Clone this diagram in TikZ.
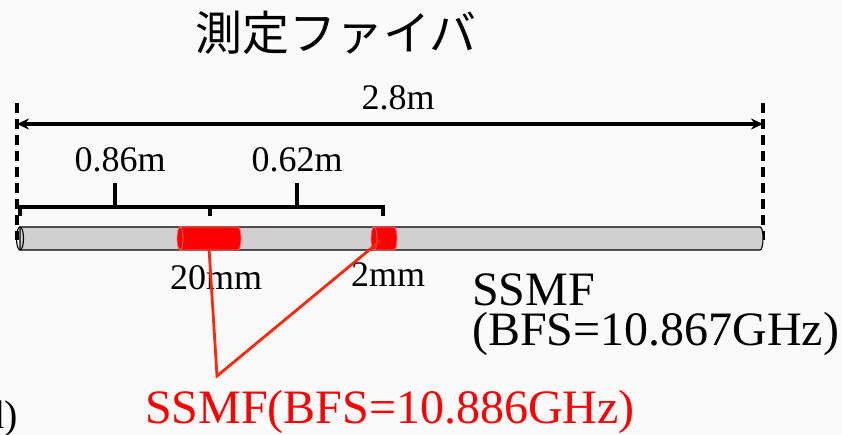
\documentclass[tikz,border=0pt]{standalone}
\usepackage{fontspec}
\setmainfont{Liberation Serif}
\newfontfamily\cjk{Noto Sans CJK JP}
\usetikzlibrary{arrows.meta}
\definecolor{bg}{RGB}{250,250,250}
\definecolor{fibergray}{RGB}{208,206,208}
\definecolor{segred}{RGB}{255,0,0}
\definecolor{segedge}{RGB}{255,110,110}
\definecolor{linered}{RGB}{255,40,10}
\tikzset{
  lbl/.style={inner sep=0pt, font=\fontsize{36}{36}\selectfont},
  big/.style={inner sep=0pt, font=\fontsize{48}{48}\selectfont},
  dim/.style={line width=3.2pt},
  guide/.style={line width=3.4pt, dash pattern=on 10pt off 6pt},
  fiberstyle/.style={draw=black, line width=1.1pt, fill=fibergray},
  redseg/.style={draw=segedge, line width=0.8pt, fill=segred},
  redline/.style={draw=linered, line width=2.8pt}
}
\begin{document}
\begin{tikzpicture}[x=1pt,y=-1pt]
\useasboundingbox[fill=bg] (0,0) rectangle (842,435);
% title
\node[inner sep=0pt, font=\cjk\fontsize{47}{47}\selectfont] (title) at (336,33) {測定ファイバ};
% guides
\coordinate (gl1) at (17,103); \coordinate (gl2) at (17,240);
\coordinate (gr1) at (763,103); \coordinate (gr2) at (763,240);
\draw[guide] (gl1) -- (gl2);
\draw[guide] (gr1) -- (gr2);
% 2.8 m arrow
\coordinate (al) at (17,124); \coordinate (ar) at (763,124);
\draw[dim, {Stealth[length=12pt,width=11pt]}-{Stealth[length=12pt,width=11pt]}] (al) -- (ar);
\node[lbl, anchor=base] (l28) at (398,110) {2.8m};
% braces
\coordinate (b1) at (20,207); \coordinate (b2) at (210,207); \coordinate (b3) at (383,207);
\coordinate (m1) at (115,207); \coordinate (m2) at (297,207);
\draw[dim] ([yshift=-9pt]b1) -- (b1) -- (b3) -- ([yshift=-9pt]b3);
\draw[dim] (b2) -- ([yshift=-9pt]b2);
\draw[dim] (m1) -- ([yshift=24pt]m1);
\draw[dim] (m2) -- ([yshift=24pt]m2);
\node[lbl, anchor=base] (l086) at (120,172) {0.86m};
\node[lbl, anchor=base] (l062) at (297,172) {0.62m};
% fiber
\path[fiberstyle] (20,227) -- (760,227) .. controls (764,227) and (764,250) .. (760,250) -- (20,250) -- cycle;
\draw[line width=1.1pt] (20,238.5) ellipse [x radius=3.5, y radius=11.5];
\node[inner sep=0pt, minimum width=743pt, minimum height=23pt] (fiber) at (391.5,238.5) {};
% red segments
\path[redseg] (180,227) -- (238,227) .. controls (242,227) and (242,250) .. (238,250) -- (180,250) -- cycle;
\draw[redseg] (180,238.5) ellipse [x radius=3, y radius=11.5];
\path[redseg] (374,227) -- (394,227) .. controls (398,227) and (398,250) .. (394,250) -- (374,250) -- cycle;
\draw[redseg] (374,238.5) ellipse [x radius=3, y radius=11.5];
\coordinate (s1) at (209,248);
\coordinate (s2) at (380,241);
% segment labels
\node[lbl, anchor=base] (l20) at (216,290) {20mm};
\node[lbl, anchor=base] (l2) at (388,287) {2mm};
% red pointer lines
\coordinate (v) at (217,376);
\draw[redline] (s1) -- (v) -- (s2);
% SSMF labels
\node[big, anchor=base west] (ssmf) at (472,305) {SSMF};
\node[big, anchor=base west] (bfs) at (472,345) {(BFS=10.867GHz)};
\node[big, anchor=base, text=segred] (redssmf) at (390,423) {SSMF(BFS=10.886GHz)};
% clipped side label
\node[inner sep=0pt, anchor=base east, font=\fontsize{40}{40}\selectfont] (side) at (18,428) {(d)};
\end{tikzpicture}
\end{document}
